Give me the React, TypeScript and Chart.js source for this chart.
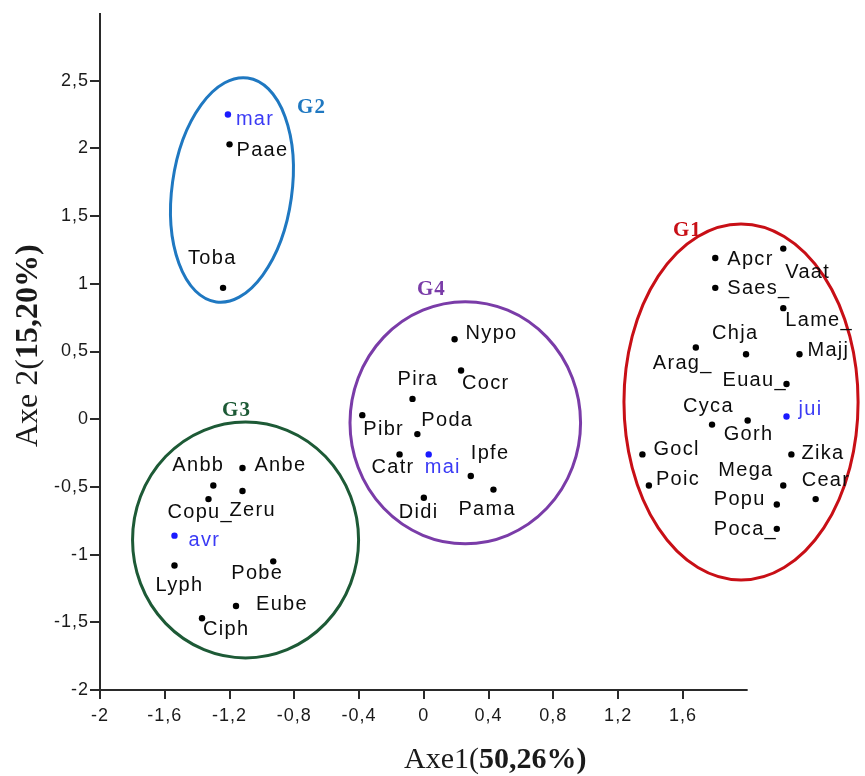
import React, { useEffect, useRef } from 'react';
import { Chart, registerables } from 'chart.js';

Chart.register(...registerables);

// Axis ticks
const X_TICKS = [-2, -1.6, -1.2, -0.8, -0.4, 0, 0.4, 0.8, 1.2, 1.6];
const Y_TICKS = [-2, -1.5, -1, -0.5, 0, 0.5, 1, 1.5, 2, 2.5];

// Species (black points)
const SPECIES = [
  'Paae', 'Toba',
  'Anbb', 'Anbe', 'Copu_', 'Zeru', 'Lyph', 'Pobe', 'Eube', 'Ciph',
  'Nypo', 'Cocr', 'Pira', 'Pibr', 'Poda', 'Catr', 'Ipfe', 'Pama', 'Didi',
  'Apcr', 'Vaat', 'Saes_', 'Lame_', 'Arag_', 'Chja', 'Majj', 'Euau_', 'Cyca', 'Gorh',
  'Gocl', 'Zika', 'Poic', 'Mega', 'Cear', 'Popu', 'Poca_',
];
const SPECIES_X = [
  -1.2, -1.24,
  -1.3, -1.12, -1.33, -1.12, -1.54, -0.93, -1.16, -1.37,
  0.19, 0.23, -0.07, -0.38, -0.04, -0.15, 0.29, 0.43, 0.0,
  1.8, 2.22, 1.8, 2.22, 1.68, 1.99, 2.32, 2.24, 1.78, 2.0,
  1.35, 2.27, 1.39, 2.22, 2.42, 2.18, 2.18,
];
const SPECIES_Y = [
  2.03, 0.97,
  -0.49, -0.36, -0.59, -0.53, -1.08, -1.05, -1.38, -1.47,
  0.59, 0.36, 0.15, 0.03, -0.11, -0.26, -0.42, -0.52, -0.58,
  1.19, 1.26, 0.97, 0.82, 0.53, 0.48, 0.48, 0.26, -0.04, -0.01,
  -0.26, -0.26, -0.49, -0.49, -0.59, -0.63, -0.81,
];

// Months (blue points)
const MONTHS = ['mar', 'avr', 'mai', 'jui'];
const MONTH_X = [-1.21, -1.54, 0.03, 2.24];
const MONTH_Y = [2.25, -0.86, -0.26, 0.02];

// Groups (ellipses)
const GROUPS = ['G1', 'G2', 'G3', 'G4'];
const GROUP_CX = [1.959, -1.185, -1.101, 0.256];
const GROUP_CY = [0.127, 1.693, -0.892, -0.026];
const GROUP_RX = [0.723, 0.37, 0.698, 0.712];
const GROUP_RY = [1.315, 0.835, 0.871, 0.894];
const GROUP_ROT_DEG = [0, 8, 0, 0];
const GROUP_LABEL_X = [1.539, -0.783, -1.246, -0.042];
const GROUP_LABEL_Y = [1.353, 2.261, 0.024, 0.917];
const GROUP_COLORS = ['#c80f16', '#1f78c1', '#1d5a36', '#7a3ca8'];

// label offsets in pixels relative to the point (left edge, vertical middle)
const LABEL_OFFSETS: Record<string, [number, number]> = {
  mar: [8, 5], Paae: [7, 6], Toba: [-35, -29],
  Anbb: [-41, -20], Anbe: [12, -2], Copu_: [-41, 13], Zeru: [-13, 20], avr: [14, 5],
  Lyph: [-19, 20], Pobe: [-42, 12], Eube: [20, -2], Ciph: [1, 11],
  Nypo: [11, -6], Cocr: [1, 13], Pira: [-15, -19], Pibr: [1, 14], Poda: [4, -14],
  Catr: [-28, 13], mai: [-4, 13], Ipfe: [0, -23], Pama: [-35, 20], Didi: [-25, 15],
  Apcr: [12, 1], Vaat: [2, 24], Saes_: [12, 1], Lame_: [2, 12], Chja: [-34, -21],
  Majj: [8, -4], Arag_: [-43, 16], Euau_: [-64, -4], Cyca: [-29, -18], Gorh: [-24, 14],
  jui: [12, -7], Gocl: [11, -5], Zika: [10, -1], Poic: [7, -6], Mega: [-65, -15],
  Cear: [-14, -19], Popu: [-63, -5], Poca_: [-63, 1],
};

const fmt = (v: number) => String(v).replace('.', ',');
const SANS = '"Liberation Sans", Arial, sans-serif';
const SERIF = '"Liberation Serif", "Times New Roman", serif';

const overlay = {
  id: 'overlay',
  beforeDraw(chart: any) {
    chart.ctx.letterSpacing = '1px';
  },
  beforeDatasetsDraw(chart: any) {
    const { ctx } = chart;
    const x = chart.scales.x;
    const y = chart.scales.y;
    const pxX = Math.abs(x.getPixelForValue(1) - x.getPixelForValue(0));
    const pxY = Math.abs(y.getPixelForValue(1) - y.getPixelForValue(0));
    ctx.save();
    ctx.letterSpacing = '0px';
    // axis lines
    ctx.strokeStyle = '#2a2a2a';
    ctx.lineWidth = 2;
    ctx.beginPath();
    ctx.moveTo(x.getPixelForValue(-2), y.getPixelForValue(-2));
    ctx.lineTo(x.getPixelForValue(2), y.getPixelForValue(-2));
    ctx.moveTo(x.getPixelForValue(-2), y.getPixelForValue(-2));
    ctx.lineTo(x.getPixelForValue(-2), y.getPixelForValue(3));
    ctx.stroke();
    // ellipses
    GROUPS.forEach((g, i) => {
      ctx.beginPath();
      ctx.strokeStyle = GROUP_COLORS[i];
      ctx.lineWidth = 3;
      ctx.ellipse(
        x.getPixelForValue(GROUP_CX[i]),
        y.getPixelForValue(GROUP_CY[i]),
        GROUP_RX[i] * pxX,
        GROUP_RY[i] * pxY,
        (GROUP_ROT_DEG[i] * Math.PI) / 180,
        0,
        Math.PI * 2
      );
      ctx.stroke();
      ctx.fillStyle = GROUP_COLORS[i];
      ctx.font = `bold 21px ${SERIF}`;
      ctx.letterSpacing = '1px';
      ctx.textAlign = 'left';
      ctx.textBaseline = 'alphabetic';
      ctx.fillText(g, x.getPixelForValue(GROUP_LABEL_X[i]), y.getPixelForValue(GROUP_LABEL_Y[i]));
    });
    ctx.restore();
  },
  afterDatasetsDraw(chart: any) {
    const { ctx } = chart;
    const x = chart.scales.x;
    const y = chart.scales.y;
    ctx.save();
    ctx.font = `20px ${SANS}`;
    ctx.letterSpacing = '1.3px';
    ctx.textAlign = 'left';
    ctx.textBaseline = 'middle';
    const draw = (names: string[], xs: number[], ys: number[], color: string) => {
      ctx.fillStyle = color;
      names.forEach((n, i) => {
        const off = LABEL_OFFSETS[n] || [6, 0];
        ctx.fillText(n, x.getPixelForValue(xs[i]) + off[0], y.getPixelForValue(ys[i]) + off[1]);
      });
    };
    draw(SPECIES, SPECIES_X, SPECIES_Y, '#0d0d0d');
    draw(MONTHS, MONTH_X, MONTH_Y, '#3b3bf5');

    // axis titles
    ctx.letterSpacing = '0px';
    ctx.fillStyle = '#1a1a1a';
    ctx.textBaseline = 'alphabetic';
    // x title
    ctx.font = `30px ${SERIF}`;
    const xa = 'Axe1(';
    const wa = ctx.measureText(xa).width;
    ctx.fillText(xa, 404, 768);
    ctx.font = `bold 30px ${SERIF}`;
    ctx.fillText('50,26%)', 404 + wa, 768);
    // y title
    ctx.translate(37, 447);
    ctx.rotate(-Math.PI / 2);
    ctx.font = `32px ${SERIF}`;
    const ya = 'Axe 2(';
    const wya = ctx.measureText(ya).width;
    ctx.fillText(ya, 0, 0);
    ctx.font = `bold 32px ${SERIF}`;
    ctx.fillText('15,20%)', wya, 0);
    ctx.restore();
  },
};

export default function App() {
  const ref = useRef<HTMLCanvasElement | null>(null);
  useEffect(() => {
    if (!ref.current) return;
    const chart = new Chart(ref.current, {
      type: 'scatter',
      data: {
        datasets: [
          {
            label: 'species',
            data: SPECIES.map((_, i) => ({ x: SPECIES_X[i], y: SPECIES_Y[i] })),
            backgroundColor: '#000000',
            borderWidth: 0,
            pointRadius: 3.2,
          },
          {
            label: 'months',
            data: MONTHS.map((_, i) => ({ x: MONTH_X[i], y: MONTH_Y[i] })),
            backgroundColor: '#1a1aff',
            borderWidth: 0,
            pointRadius: 3.2,
          },
        ],
      },
      options: {
        responsive: false,
        animation: false,
        devicePixelRatio: 1,
        events: [],
        layout: { padding: { top: 13, right: 4, left: 0, bottom: 0 } },
        plugins: { legend: { display: false }, tooltip: { enabled: false } },
        scales: {
          x: {
            type: 'linear',
            min: -2,
            max: 2.7,
            afterBuildTicks: (s: any) => {
              s.ticks = X_TICKS.map((v) => ({ value: v }));
            },
            afterFit: (s: any) => {
              s.height = 86;
            },
            border: { display: false },
            grid: { drawOnChartArea: false, drawTicks: true, tickLength: 9, color: '#2a2a2a', lineWidth: 2 },
            ticks: {
              autoSkip: false,
              maxRotation: 0,
              padding: 6,
              color: '#1a1a1a',
              font: { family: SANS, size: 18 },
              callback: (v: any) => fmt(Number(v)),
            },
          },
          y: {
            type: 'linear',
            min: -2,
            max: 3,
            afterBuildTicks: (s: any) => {
              s.ticks = Y_TICKS.map((v) => ({ value: v }));
            },
            afterFit: (s: any) => {
              s.width = 100;
            },
            border: { display: false },
            grid: { drawOnChartArea: false, drawTicks: true, tickLength: 10, color: '#2a2a2a', lineWidth: 2 },
            ticks: {
              autoSkip: false,
              padding: 1,
              color: '#1a1a1a',
              font: { family: SANS, size: 18 },
              callback: (v: any) => fmt(Number(v)),
            },
          },
        },
      },
      plugins: [overlay],
    } as any);
    return () => chart.destroy();
  }, []);
  return (
    <div style={{ position: 'fixed', left: 0, top: 0, width: 865, height: 776, background: '#fff' }}>
      <canvas ref={ref} width={865} height={776} style={{ display: 'block' }} />
    </div>
  );
}
